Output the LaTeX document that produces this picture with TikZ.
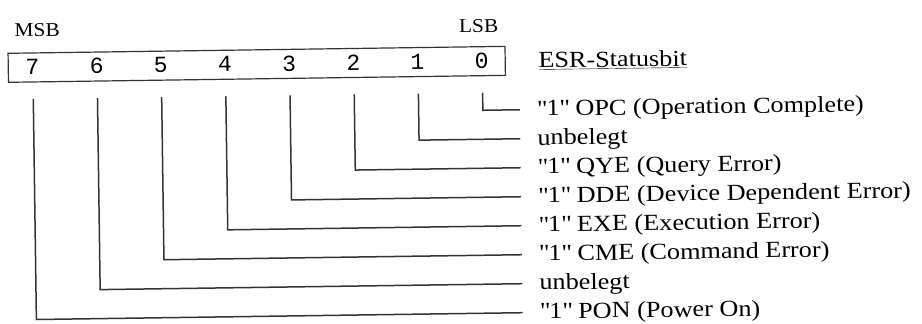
\documentclass[tikz,border=0pt]{standalone}
\usepackage{fontspec}
\setmainfont[FakeStretch=1.14]{Liberation Serif}
\newfontfamily\msbfont[FakeStretch=1.1]{Liberation Serif}
\newfontfamily\digfont{Liberation Mono}
\newcommand\mydq{\textquotedbl}
\begin{document}
\begin{tikzpicture}[x=1pt,y=-1pt,
  wire/.style={line width=1.5pt,color=black!80},
  boxline/.style={line width=1.2pt,color=black!80},
  lbl/.style={anchor=base west,inner sep=0pt,transform shape,font=\fontsize{23}{25}\selectfont},
  sb/.style={anchor=base,inner sep=0pt,transform shape,font=\msbfont\fontsize{19.5}{21}\selectfont},
  dig/.style={anchor=center,inner sep=0pt,transform shape,font=\digfont\fontsize{23}{25}\selectfont}]
\useasboundingbox (0,0) rectangle (922,324);
\begin{scope}[rotate around={0.8:(460,190)}]
% register box
\draw[boxline] (10,47) rectangle (507,76);
\node[sb] (msb) at (39.5,30.5) {MSB};
\node[sb] (lsb) at (481,32.5) {LSB};
\node[lbl] (esr) at (540,69) {\underline{ESR-Statusbit}};
% bits
\foreach \i/\t in {0/{\mydq1\mydq\ OPC (Operation Complete)},
                   1/{unbelegt},
                   2/{\mydq1\mydq\ QYE (Query Error)},
                   3/{\mydq1\mydq\ DDE (Device Dependent Error)},
                   4/{\mydq1\mydq\ EXE (Execution Error)},
                   5/{\mydq1\mydq\ CME (Command Error)},
                   6/{unbelegt},
                   7/{\mydq1\mydq\ PON (Power On)}}{
  \node[dig] (d\i) at ({483.5-64.2*\i},61) {\i};
  \coordinate (top\i) at ({484-64.2*\i},93);
  \coordinate (cor\i) at ({484-64.2*\i},{110.6+29*\i});
  \coordinate (end\i) at (521,{110.6+29*\i});
  \node[lbl] (t\i) at (538,{110.6+29*\i+6.5}) {\t};
  \draw[wire] (top\i) -- (cor\i) -- (end\i);
}
\end{scope}
\end{tikzpicture}
\end{document}
